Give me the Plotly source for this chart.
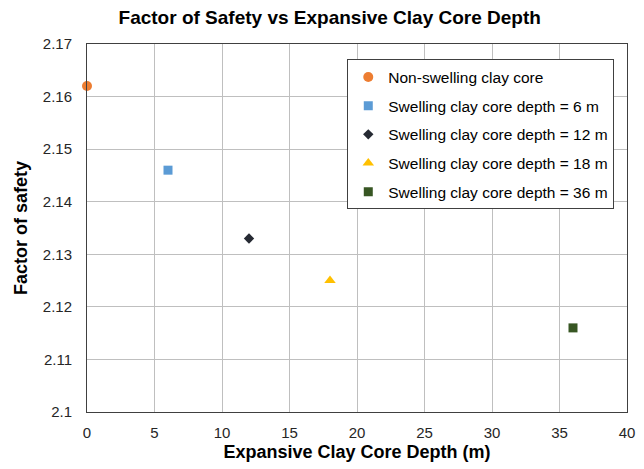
import plotly.graph_objects as go

names = ["Non-swelling clay core", "Swelling clay core depth = 6 m",
         "Swelling clay core depth = 12 m", "Swelling clay core depth = 18 m",
         "Swelling clay core depth = 36 m"]
depths = [0, 6, 12, 18, 36]
fos = [2.162, 2.146, 2.133, 2.125, 2.116]
symbols = ["circle", "square", "diamond", "triangle-up", "square"]
colors = ["#ED7D31", "#5B9BD5", "#262A33", "#FFC000", "#375623"]
sizes = [10, 9, 8, 10, 9]

x_ticks = [0, 5, 10, 15, 20, 25, 30, 35, 40]
y_ticks = [2.1, 2.11, 2.12, 2.13, 2.14, 2.15, 2.16, 2.17]
y_labels = ["2.1", "2.11", "2.12", "2.13", "2.14", "2.15", "2.16", "2.17"]

fig = go.Figure()
for i in range(len(names)):
    fig.add_trace(go.Scatter(
        x=[depths[i]], y=[fos[i]], mode="markers", name=names[i],
        legendgroup=str(i),
        marker=dict(symbol=symbols[i], color=colors[i], size=sizes[i]),
        cliponaxis=False,
    ))

fig.update_layout(
    width=644, height=469,
    margin=dict(l=87, r=17, t=44, b=57),
    paper_bgcolor="white", plot_bgcolor="white",
    font=dict(family="Liberation Sans, Arial, sans-serif", size=15, color="#262626"),
    title=dict(text="<b>Factor of Safety vs Expansive Clay Core Depth</b>",
               x=0.512, xanchor="center", y=0.963, yanchor="middle",
               font=dict(size=19, color="#000000")),
    legend=dict(x=0.482, y=0.958, xanchor="left", yanchor="top",
                bgcolor="white", bordercolor="#404040", borderwidth=1,
                font=dict(size=15.5, color="#000000"),
                traceorder="grouped", tracegroupgap=5.5),
    showlegend=True,
)
fig.update_xaxes(
    range=[0, 40], tickvals=x_ticks, showgrid=True, gridcolor="#BFBFBF", gridwidth=1,
    showline=True, linecolor="#404040", linewidth=1, mirror=True, zeroline=False,
    ticks="", ticklen=0, ticklabelstandoff=7, automargin=False,
    title=dict(text="<b>Expansive Clay Core Depth (m)</b>", font=dict(size=18, color="#000000"), standoff=5),
)
fig.update_yaxes(
    range=[2.1, 2.17], tickvals=y_ticks, ticktext=y_labels, showgrid=True, gridcolor="#BFBFBF", gridwidth=1,
    showline=True, linecolor="#404040", linewidth=1, mirror=True, zeroline=False,
    ticks="", ticklen=0, ticklabelstandoff=11, automargin=False,
    title=dict(text="<b>Factor of safety</b>", font=dict(size=18, color="#000000"), standoff=10),
)
fig.write_html("out.html")
